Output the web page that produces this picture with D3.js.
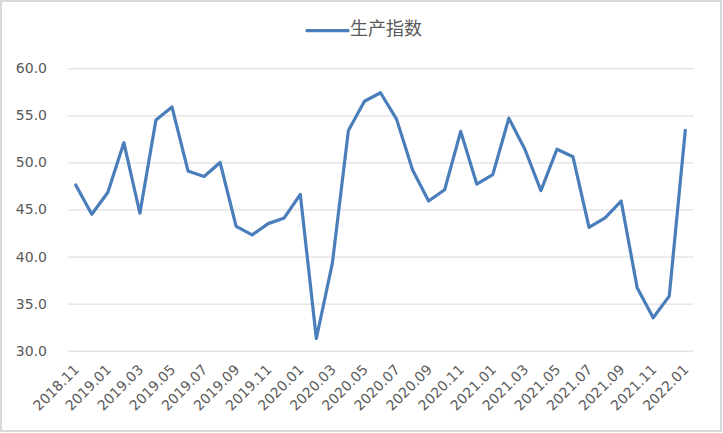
<!DOCTYPE html>
<html>
<head>
<meta charset="utf-8">
<script src="https://cdn.jsdelivr.net/npm/d3@7/dist/d3.min.js"></script>
<style>
  html, body { margin: 0; padding: 0; background: #fff; }
  svg { display: block; }
</style>
</head>
<body>
<svg id="chart" width="723" height="433"></svg>
<script>
const months = ["2018.11","2018.12","2019.01","2019.02","2019.03","2019.04","2019.05","2019.06","2019.07","2019.08","2019.09","2019.10",
  "2019.11","2019.12","2020.01","2020.02","2020.03","2020.04","2020.05","2020.06","2020.07","2020.08","2020.09","2020.10",
  "2020.11","2020.12","2021.01","2021.02","2021.03","2021.04","2021.05","2021.06","2021.07","2021.08","2021.09","2021.10",
  "2021.11","2021.12","2022.01"];
const production = [47.6,44.5,46.8,52.1,44.6,54.5,55.9,49.1,48.5,50.0,43.2,42.3,
  43.5,44.1,46.6,31.3,39.3,53.4,56.5,57.4,54.6,49.2,45.9,47.1,
  53.3,47.7,48.7,54.7,51.4,47.0,51.4,50.6,43.1,44.1,45.9,36.7,
  33.5,35.8,53.4];
const xTickLabels = ["2018.11","2019.01","2019.03","2019.05","2019.07","2019.09","2019.11","2020.01","2020.03","2020.05",
  "2020.07","2020.09","2020.11","2021.01","2021.03","2021.05","2021.07","2021.09","2021.11","2022.01"];
const yTicks = [30,35,40,45,50,55,60];
const seriesName = "生产指数";

(function () {
const svg = d3.select("#chart");
const W = 723, H = 433;
const pLeft = 67.7, pRight = 693.3, pTop = 68.3, pBottom = 350.7;

// frame
svg.append("rect").attr("x", 1).attr("y", 1).attr("width", W - 3).attr("height", H - 3)
  .attr("fill", "#fff").attr("stroke", "#d9d9d9").attr("stroke-width", 2);

const x = d3.scalePoint().domain(months).range([pLeft, pRight]).padding(0.5);
const y = d3.scaleLinear().domain([30, 60]).range([pBottom, pTop]);

// gridlines + y labels
const yAxis = d3.axisLeft(y).tickValues(yTicks).tickSize(-(pRight - pLeft)).tickFormat(d3.format(".1f"));
const gy = svg.append("g").attr("transform", `translate(${pLeft},0)`).call(yAxis);
gy.select(".domain").remove();
gy.selectAll(".tick line").attr("stroke", "#d9d9d9").attr("stroke-width", 1);
gy.selectAll(".tick text").attr("fill", "#595959").attr("font-family", "DejaVu Sans, sans-serif")
  .attr("font-size", 14).attr("x", 47 - pLeft).attr("text-anchor", "end");

// x labels
const xAxis = d3.axisBottom(x).tickValues(xTickLabels).tickSize(0);
const gx = svg.append("g").attr("transform", `translate(0,${pBottom})`).call(xAxis);
gx.select(".domain").remove();
gx.selectAll(".tick text")
  .attr("fill", "#595959").attr("font-family", "DejaVu Sans, sans-serif").attr("font-size", 14)
  .attr("text-anchor", "end").attr("dy", null).attr("y", 0)
  .attr("dominant-baseline", "middle")
  .attr("transform", "translate(1,17) rotate(-45)");

// line
const line = d3.line().x((d, i) => x(months[i])).y(d => y(d));
svg.append("path").datum(production).attr("d", line)
  .attr("fill", "none").attr("stroke", "#4a7ebb").attr("stroke-width", 3.2)
  .attr("stroke-linejoin", "round").attr("stroke-linecap", "round");

// legend
const lg = svg.append("g");
lg.append("line").attr("x1", 307).attr("x2", 348).attr("y1", 30.7).attr("y2", 30.7)
  .attr("stroke", "#4a7ebb").attr("stroke-width", 3.2).attr("stroke-linecap", "round");
lg.append("text").attr("x", 350).attr("y", 30.5).attr("dominant-baseline", "middle")
  .attr("fill", "#595959").attr("font-family", "Noto Sans CJK SC, sans-serif").attr("font-size", 18)
  .text(seriesName);
})();
</script>
</body>
</html>
